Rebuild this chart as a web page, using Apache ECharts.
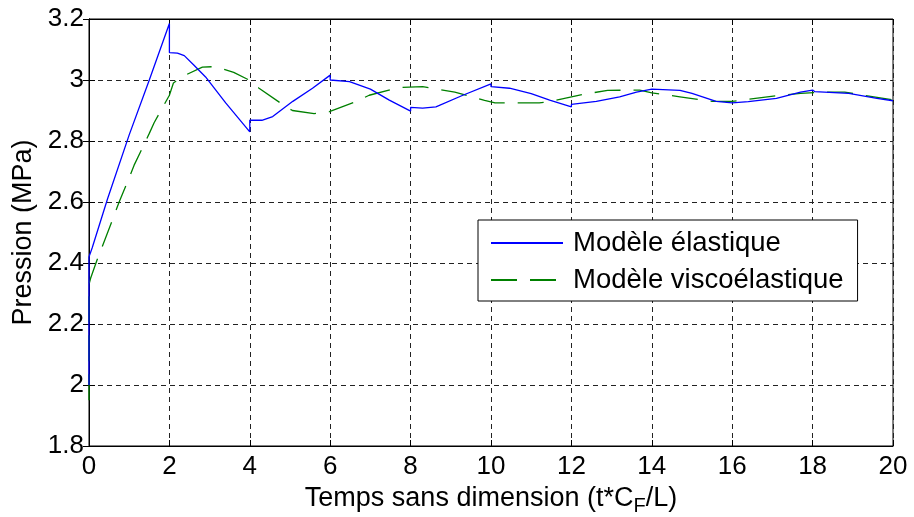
<!DOCTYPE html>
<html>
<head>
<meta charset="utf-8">
<script src="https://cdn.jsdelivr.net/npm/echarts@6/dist/echarts.min.js"></script>
<style>
  html, body { margin: 0; padding: 0; background: #fff; }
  #chart { width: 914px; height: 517px; }
</style>
</head>
<body>
<div id="chart"></div>
<script>
// Modèle élastique (bleu)
const elasticT = [0, 0, 0.08, 0.46, 1.0, 1.5, 2.0, 2.0, 2.2, 2.37, 2.6, 2.9, 3.4, 4.0, 4.0, 4.3, 4.57, 5.07, 5.56, 6.0, 6.0,
  6.48, 7.0, 7.47, 8.0, 8.0, 8.3, 8.63, 9.3, 10.0, 10.0, 10.46, 11.0, 11.46, 12.0, 12.0, 12.62, 13.2, 13.62, 14.0, 14.0,
  14.7, 15.0, 15.6, 16.0, 16.4, 17.1, 17.7, 18.0, 18.05, 18.9, 19.6, 20.0];
const elasticP = [2.0, 2.42, 2.45, 2.61, 2.82, 3.0, 3.185, 3.09, 3.088, 3.08, 3.05, 3.01, 2.925, 2.83, 2.868, 2.868, 2.88, 2.93, 2.973, 3.016, 3.0,
  2.995, 2.97, 2.934, 2.898, 2.91, 2.908, 2.912, 2.95, 2.987, 2.978, 2.973, 2.955, 2.934, 2.912, 2.92, 2.93, 2.945, 2.96, 2.97, 2.965,
  2.966, 2.956, 2.93, 2.925, 2.929, 2.94, 2.96, 2.967, 2.962, 2.956, 2.94, 2.932];

// Modèle viscoélastique (vert, tirets)
const viscoT = [0, 0, 0.04, 0.2, 0.29, 0.58, 0.75, 1.0, 1.12, 1.5, 1.62, 2.0, 2.1, 2.3, 2.82, 3.15, 3.6, 3.98,
  4.23, 4.9, 5.06, 5.6, 5.98, 6.64, 6.97, 7.7, 8.3, 9.1, 9.84, 10.1, 11.2, 11.5, 12.3, 12.9, 13.7, 14.0,
  14.7, 15.5, 16.0, 17.2, 17.7, 18.2, 18.8, 20.0];
const viscoP = [1.95, 2.33, 2.35, 2.41, 2.44, 2.54, 2.6, 2.68, 2.72, 2.825, 2.86, 2.95, 2.99, 3.01, 3.042, 3.044, 3.025, 3.0,
  2.973, 2.912, 2.9, 2.89, 2.896, 2.929, 2.95, 2.975, 2.978, 2.96, 2.933, 2.925, 2.925, 2.93, 2.953, 2.966, 2.967, 2.958,
  2.945, 2.93, 2.93, 2.95, 2.956, 2.96, 2.96, 2.935];

const seriesNames = ["Modèle élastique", "Modèle viscoélastique"];
const xTicks = [0, 2, 4, 6, 8, 10, 12, 14, 16, 18, 20];
const yTicks = ["1.8", "2", "2.2", "2.4", "2.6", "2.8", "3", "3.2"];

const FONT = "Liberation Sans, Arial, sans-serif";

const zip = (a, b) => a.map((v, i) => [v, b[i]]);

const gridLine = { show: true, lineStyle: { color: "#222", type: [5, 4], width: 1 } };

const myChart = echarts.init(document.getElementById("chart"));

const option = {
  backgroundColor: "#fff",
  animation: false,
  grid: {
    left: 89, right: 21, top: 19, bottom: 71,
    containLabel: false,
    outerBoundsMode: "none",
    show: true, borderColor: "#000", borderWidth: 1
  },
  legend: {
    orient: "vertical",
    left: 478,
    top: 220,
    itemWidth: 72,
    itemHeight: 14,
    itemGap: 7,
    padding: [8, 14, 6, 12],
    backgroundColor: "#fff",
    borderColor: "#000",
    borderWidth: 1,
    borderRadius: 0,
    itemStyle: { opacity: 0 },
    textStyle: { fontFamily: FONT, fontSize: 27.5, color: "#000", lineHeight: 30, padding: [0, 0, 0, 5] },
    data: seriesNames
  },
  xAxis: [
    {
      type: "value",
      min: 0, max: 20, interval: 2,
      name: "Temps sans dimension (t*C{sub|F}/L)",
      nameLocation: "middle",
      nameGap: 33,
      nameTextStyle: {
        fontFamily: FONT, fontSize: 27, color: "#000",
        rich: { sub: { fontFamily: FONT, fontSize: 20, color: "#000", padding: [16, 0, 0, 0] } }
      },
      axisLine: { show: true, lineStyle: { color: "#000", width: 1 } },
      axisTick: { show: true, inside: true, length: 6, lineStyle: { color: "#000" } },
      axisLabel: {
        fontFamily: FONT, fontSize: 26, color: "#000", margin: 8,
        formatter: (v) => (xTicks.includes(v) ? String(v) : "")
      },
      splitLine: gridLine
    },
    {
      type: "value",
      position: "top",
      min: 0, max: 20, interval: 2,
      axisLine: { show: true, lineStyle: { color: "#000" } },
      axisTick: { show: true, inside: true, length: 6, lineStyle: { color: "#000" } },
      axisLabel: { show: false },
      splitLine: { show: false }
    }
  ],
  yAxis: [
    {
      type: "value",
      min: 1.8, max: 3.2, interval: 0.2,
      name: "Pression (MPa)",
      nameLocation: "middle",
      nameGap: 52,
      nameTextStyle: { fontFamily: FONT, fontSize: 27, color: "#000" },
      axisLine: { show: true, lineStyle: { color: "#000", width: 1 } },
      axisTick: { show: true, inside: true, length: 6, lineStyle: { color: "#000" } },
      axisLabel: {
        fontFamily: FONT, fontSize: 26, color: "#000", margin: 5,
        formatter: (v) => {
          const s = String(Math.round(v * 10) / 10);
          return yTicks.includes(s) ? s : "";
        }
      },
      splitLine: gridLine
    },
    {
      type: "value",
      position: "right",
      min: 1.8, max: 3.2, interval: 0.2,
      axisLine: { show: true, lineStyle: { color: "#000" } },
      axisTick: { show: true, inside: true, length: 6, lineStyle: { color: "#000" } },
      axisLabel: { show: false },
      splitLine: { show: false }
    }
  ],
  series: [
    {
      name: seriesNames[0],
      type: "line",
      data: zip(elasticT, elasticP),
      showSymbol: false,
      symbol: "none",
      lineStyle: { color: "#0000ff", width: 1.3 },
      itemStyle: { color: "#0000ff" },
      z: 3
    },
    {
      name: seriesNames[1],
      type: "line",
      data: zip(viscoT, viscoP),
      showSymbol: false,
      symbol: "none",
      lineStyle: { color: "#008000", width: 1.3, type: [26, 13] },
      itemStyle: { color: "#008000" },
      z: 2
    }
  ]
};

myChart.setOption(option);
window.addEventListener("resize", myChart.resize);
</script>
</body>
</html>
